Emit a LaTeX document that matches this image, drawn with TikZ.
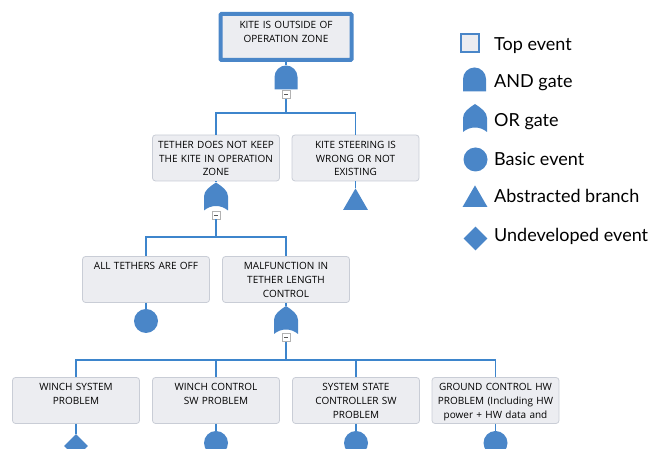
\documentclass[tikz,border=0pt]{standalone}
\usepackage{fontspec}
\setmainfont{Open Sans}
\newfontfamily\legendfont{Lato}
\usetikzlibrary{shapes.geometric}
\definecolor{ftblue}{HTML}{4A86C8}
\definecolor{ftline}{HTML}{3D85CC}
\definecolor{ftfill}{HTML}{ECEDF1}
\definecolor{ftborder}{HTML}{C9CDD6}
\tikzset{
	event/.style={draw=ftborder, fill=ftfill, line width=0.8pt, rounded corners=3pt, inner sep=0pt,
		text width=127pt, minimum width=127pt, align=center, text height=13.5pt, text depth=32.5pt,
		font=\fontsize{10}{13.6}\selectfont},
	topevent/.style={event, draw=ftblue, line width=4pt, rounded corners=1pt,
		text width=131pt, minimum width=131pt, text height=14.5pt, text depth=31.5pt},
	andgate/.style={minimum width=23pt, minimum height=24pt, inner sep=0pt,
		path picture={\fill[ftblue, shift={(path picture bounding box.center)}]
			(-11.5pt,-12pt) -- (-11.5pt,0.5pt) arc[start angle=180, end angle=0, radius=11.5pt] -- (11.5pt,-12pt) -- cycle;}},
	orgate/.style={minimum width=24pt, minimum height=28pt, inner sep=0pt,
		path picture={\fill[ftblue, shift={(path picture bounding box.center)}]
			(-12pt,-14pt) -- (-12pt,0pt) .. controls (-12pt,6pt) and (-6pt,10pt) .. (0pt,14pt)
			.. controls (6pt,10pt) and (12pt,6pt) .. (12pt,0pt) -- (12pt,-14pt)
			.. controls (5pt,-8pt) and (-5pt,-8pt) .. (-12pt,-14pt) -- cycle;}},
	minusbox/.style={draw=gray!60, fill=white, line width=0.6pt, minimum size=8pt, inner sep=0pt,
		path picture={\draw[gray!70!black, line width=0.7pt] ([xshift=-2pt]path picture bounding box.center) -- ([xshift=2pt]path picture bounding box.center);}},
	basic/.style={circle, fill=ftblue, minimum size=24pt, inner sep=0pt},
	abstracted/.style={regular polygon, regular polygon sides=3, fill=ftblue, minimum size=28.5pt, inner sep=0pt, anchor=north},
	undeveloped/.style={diamond, fill=ftblue, minimum size=24pt, inner sep=0pt},
	wire/.style={draw=ftline, line width=1.8pt},
	legendtext/.style={anchor=base west, inner sep=0pt, font=\legendfont\fontsize{18}{21}\selectfont}
}
\begin{document}
\begin{tikzpicture}[x=1pt, y=1pt]
	\useasboundingbox (0,0) rectangle (667,449);
	\node[topevent] (top) at (286,412) {KITE IS OUTSIDE OF\\OPERATION ZONE};
	\node[andgate] (g1) at (286,371.5) {};
	\node[minusbox] (m1) at (286,354.5) {};
	\coordinate (b1) at (286,336);
	\node[event] (e1) at (216,291) {TETHER DOES NOT KEEP\\THE KITE IN OPERATION\\ZONE};
	\node[event] (e2) at (355.5,291) {KITE STEERING IS\\WRONG OR NOT\\EXISTING};
	\node[orgate] (g2) at (216,252.5) {};
	\node[minusbox] (m2) at (216,234) {};
	\node[abstracted] (t1) at (355.5,261) {};
	\coordinate (b2) at (216,212);
	\node[event] (e3) at (146,169.5) {ALL TETHERS ARE OFF};
	\node[event] (e4) at (286,169.5) {MALFUNCTION IN\\TETHER LENGTH\\CONTROL};
	\node[basic] (c1) at (146,128) {};
	\node[orgate] (g3) at (286,129) {};
	\node[minusbox] (m3) at (286,111.5) {};
	\coordinate (b3) at (286,89);
	\node[event] (e5) at (76,48.5) {WINCH SYSTEM\\PROBLEM};
	\node[event] (e6) at (216,48.5) {WINCH CONTROL\\SW PROBLEM};
	\node[event] (e7) at (356,48.5) {SYSTEM STATE\\CONTROLLER SW\\PROBLEM};
	\node[event] (e8) at (495.5,48.5) {GROUND CONTROL HW\\PROBLEM (Including HW\\power + HW data and};
	\node[undeveloped] (d1) at (76,3) {};
	\node[basic] (c2) at (216,6) {};
	\node[basic] (c3) at (356,6) {};
	\node[basic] (c4) at (495.5,6) {};

	\draw[wire] (top) -- (g1);
	\draw[wire] (m1) -- (b1) -| (e1);
	\draw[wire] (b1) -| (e2);
	\draw[wire] (e1) -- (g2);
	\draw[wire] (e2) -- (t1);
	\draw[wire] (m2) -- (b2) -| (e3);
	\draw[wire] (b2) -| (e4);
	\draw[wire] (e3) -- (c1);
	\draw[wire] (e4) -- (g3);
	\draw[wire] (m3) -- (b3) -| (e5);
	\draw[wire] (b3) -| (e6);
	\draw[wire] (b3) -| (e7);
	\draw[wire] (b3) -| (e8);
	\draw[wire] (e5) -- (d1);
	\draw[wire] (e6) -- (c2);
	\draw[wire] (e7) -- (c3);
	\draw[wire] (e8) -- (c4);

	\node[draw=ftblue, fill=ftfill, line width=2.5pt, minimum size=18pt, inner sep=0pt] (lg1) at (470,406) {};
	\node[andgate] (lg2) at (474.5,369.5) {};
	\node[orgate] (lg3) at (475,331) {};
	\node[basic] (lg4) at (475.5,289.5) {};
	\node[abstracted] (lg5) at (475,264) {};
	\node[undeveloped] (lg6) at (475.5,210.5) {};
	\node[legendtext] (lt1) at (494,398) {Top event};
	\node[legendtext] (lt2) at (494,361) {AND gate};
	\node[legendtext] (lt3) at (494,322) {OR gate};
	\node[legendtext] (lt4) at (494,283) {Basic event};
	\node[legendtext] (lt5) at (494,246) {Abstracted branch};
	\node[legendtext] (lt6) at (494,207) {Undeveloped event};
\end{tikzpicture}
\end{document}
